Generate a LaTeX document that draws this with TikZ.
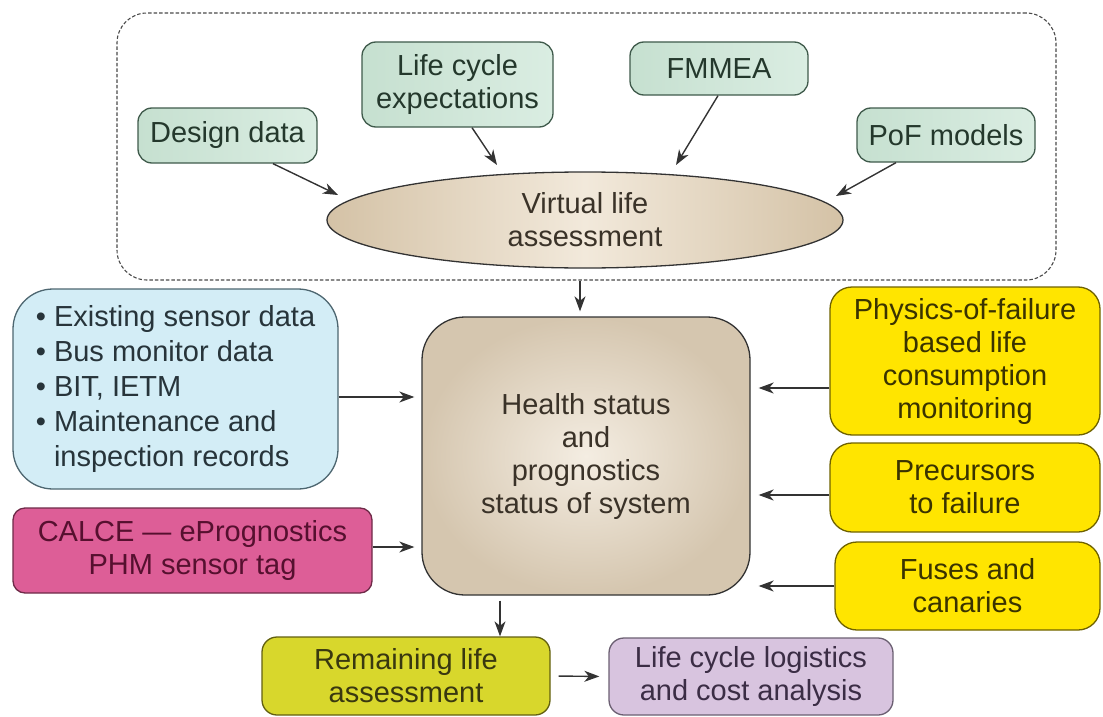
\documentclass[tikz,border=0pt]{standalone}
\usepackage{fontspec}
\setmainfont{Liberation Sans}
\usetikzlibrary{arrows.meta,shapes.geometric,calc}
\definecolor{gA}{HTML}{C6E0D0}
\definecolor{gB}{HTML}{DAEDE2}
\definecolor{gBord}{HTML}{3F5A4B}
\definecolor{gText}{HTML}{24382C}
\definecolor{eA}{HTML}{D4C2A6}
\definecolor{eB}{HTML}{F2E9DB}
\definecolor{hIn}{HTML}{F4EDE2}
\definecolor{hOut}{HTML}{D5C6AF}
\definecolor{darkText}{HTML}{3A3228}
\definecolor{bFill}{HTML}{D3EDF6}
\definecolor{bBord}{HTML}{4D6670}
\definecolor{bText}{HTML}{27343A}
\definecolor{pFill}{HTML}{DD5E97}
\definecolor{pBord}{HTML}{6E2A48}
\definecolor{pText}{HTML}{56102F}
\definecolor{yFill}{HTML}{FFE500}
\definecolor{yBord}{HTML}{6F6200}
\definecolor{yText}{HTML}{3A3300}
\definecolor{rFill}{HTML}{D8D72C}
\definecolor{rBord}{HTML}{626010}
\definecolor{rText}{HTML}{393810}
\definecolor{lFill}{HTML}{D8C4DF}
\definecolor{lBord}{HTML}{6B5F72}
\definecolor{lText}{HTML}{3B2D45}
\definecolor{lineC}{HTML}{333333}
\definecolor{dashC}{HTML}{4A4A4A}
\begin{document}
\begin{tikzpicture}[x=1pt,y=-1pt,
  base/.style={line width=1.3pt, align=center, inner sep=0pt,
    font=\fontsize{29}{33}\selectfont},
  greenbox/.style={base, rounded corners=14pt, draw=gBord, left color=gA, right color=gB, text=gText},
  virtbox/.style={base, ellipse, draw=lineC, left color=eA, right color=eA, middle color=eB, text=darkText},
  healthbox/.style={base, rounded corners=43pt, draw=lineC, inner color=hIn, outer color=hOut, text=darkText},
  bluebox/.style={base, rounded corners=40pt, draw=bBord, fill=bFill, text=bText, align=left,
    font=\fontsize{29}{35}\selectfont},
  pinkbox/.style={base, rounded corners=12pt, draw=pBord, fill=pFill, text=pText},
  yellowbox/.style={base, rounded corners=22pt, draw=yBord, fill=yFill, text=yText},
  remainbox/.style={base, rounded corners=15pt, draw=rBord, fill=rFill, text=rText},
  lavbox/.style={base, rounded corners=15pt, draw=lBord, fill=lFill, text=lText},
  groupbox/.style={draw=dashC, line width=1.1pt, dash pattern=on 3.5pt off 2pt, rounded corners=30pt},
  arr/.style={line width=1.4pt, draw=lineC, -{Stealth[length=15pt,width=11pt,inset=4.5pt]}}
]
\useasboundingbox (0,0) rectangle (1103,717);

% virtual life group
\node[groupbox, minimum width=939pt, minimum height=267pt] (vbox) at (586.5,146.5) {};
\node[greenbox, minimum width=179pt, minimum height=55pt] (design) at (227.5,135.5) {Design data};
\node[greenbox, minimum width=191pt, minimum height=85pt] (life) at (457.5,84.5) {Life cycle\\expectations};
\node[greenbox, minimum width=178pt, minimum height=53pt] (fmmea) at (719,68.5) {FMMEA};
\node[greenbox, minimum width=178pt, minimum height=54pt] (pof) at (946,135) {PoF models};
\node[virtbox, minimum width=516pt, minimum height=96pt] (virt) at (585,220) {Virtual life\\assessment};

% central
\node[healthbox, minimum width=328pt, minimum height=278pt] (health) at (586,456)
  {Health status\\and\\prognostics\\status of system};

% left
\node[bluebox, minimum width=325pt, minimum height=200pt] (blue) at (175.5,389)
  {\textbullet\ Existing sensor data\\\textbullet\ Bus monitor data\\\textbullet\ BIT, IETM\\\textbullet\ Maintenance and\\\hphantom{\textbullet\ }inspection records};
\node[pinkbox, minimum width=359pt, minimum height=85pt] (pink) at (192.5,550.5)
  {CALCE — ePrognostics\\PHM sensor tag};

% right
\node[yellowbox, minimum width=270pt, minimum height=148pt] (phys) at (965,361)
  {Physics-of-failure\\based life\\consumption\\monitoring};
\node[yellowbox, minimum width=270pt, minimum height=89pt] (prec) at (965,487.5)
  {Precursors\\to failure};
\node[yellowbox, minimum width=265pt, minimum height=88pt] (fuses) at (967.5,586)
  {Fuses and\\canaries};

% bottom
\node[remainbox, minimum width=288pt, minimum height=78pt] (remain) at (406,676)
  {Remaining life\\assessment};
\node[lavbox, minimum width=284pt, minimum height=77pt] (lcl) at (751,676.5)
  {Life cycle logistics\\and cost analysis};

% connectors
\draw[arr] ([xshift=45.5pt]design.south) -- ([xshift=-247pt,yshift=25pt]virt.center);
\draw[arr] ([xshift=14.5pt]life.south) -- ([xshift=-88pt,yshift=55pt]virt.center);
\draw[arr] ([xshift=-1pt]fmmea.south) -- ([xshift=91pt,yshift=55pt]virt.center);
\draw[arr] ([xshift=-50pt]pof.south) -- ([xshift=251pt,yshift=24pt]virt.center);
\draw[arr] ([xshift=-6.5pt]vbox.south) -- ([xshift=-6pt,yshift=5pt]health.north);
\draw[arr, shorten >=7pt] ([yshift=-8pt]blue.east) coordinate (b1) -- (b1 -| health.west);
\draw[arr, shorten >=7pt] ([yshift=3.5pt]pink.east) coordinate (p1) -- (p1 -| health.west);
\draw[arr, shorten >=8pt] ([yshift=-27pt]phys.west) coordinate (y1) -- (y1 -| health.east);
\draw[arr, shorten >=8pt] ([yshift=-7.5pt]prec.west) coordinate (y2) -- (y2 -| health.east);
\draw[arr, shorten >=8pt] (fuses.west) coordinate (y3) -- (y3 -| health.east);
\draw[arr, shorten <=5pt] ([xshift=-86pt]health.south) coordinate (h1) -- (h1 |- remain.north);
\draw[arr, shorten <=8pt, shorten >=9pt] (remain.east) -- (lcl.west);
\end{tikzpicture}
\end{document}
